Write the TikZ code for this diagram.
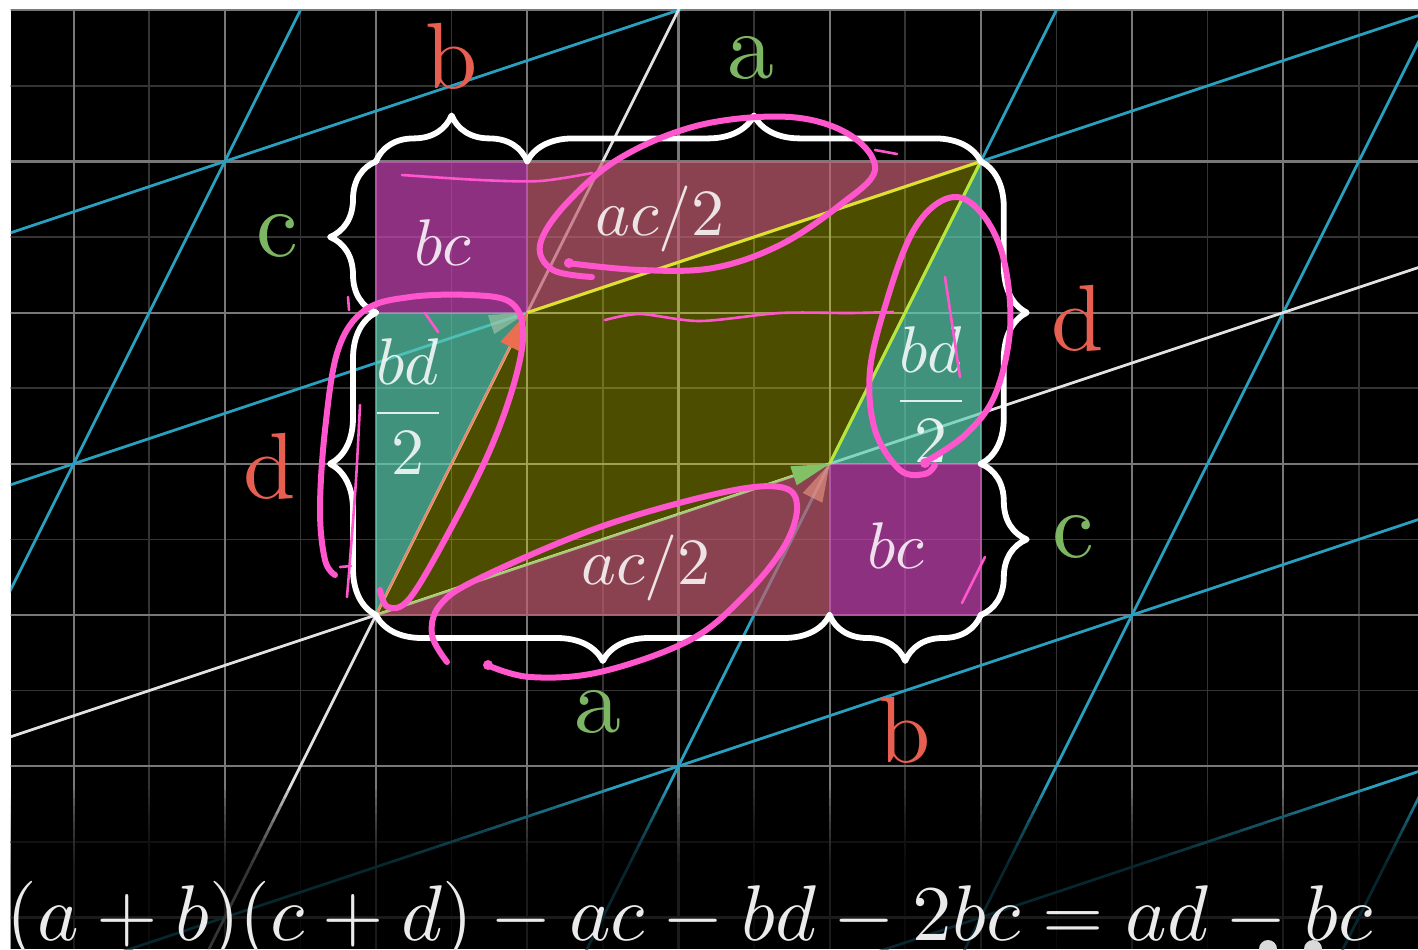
\documentclass[tikz,border=0pt]{standalone}
\usepackage{graphicx}
\usetikzlibrary{decorations.pathreplacing}
\definecolor{labred}{RGB}{230,95,80}
\definecolor{labgreen}{RGB}{125,182,98}
\definecolor{tblue}{RGB}{42,160,192}
\definecolor{gridmaj}{RGB}{120,120,120}
\definecolor{gridmin}{RGB}{52,52,52}
\definecolor{axisw}{RGB}{225,225,225}
\definecolor{fpurple}{RGB}{209,71,189}
\definecolor{fred}{RGB}{197,95,115}
\definecolor{fteal}{RGB}{92,208,179}
\definecolor{fyellow}{RGB}{255,255,0}
\definecolor{annpink}{RGB}{255,85,205}
\definecolor{vecred}{RGB}{235,110,80}
\definecolor{vecgreen}{RGB}{131,193,103}
\newcommand{\biglbl}[1]{\scalebox{4.7}{#1}}
\newcommand{\inmath}[1]{\scalebox{3.3}{$\displaystyle #1$}}
\tikzset{
  majl/.style={draw=gridmaj, line width=1.1pt},
  minl/.style={draw=gridmin, line width=0.75pt},
  tgrid/.style={draw=tblue, line width=1.4pt},
  axisl/.style={draw=axisw, line width=1.4pt},
  bracel/.style={draw=white, line width=2.9pt, line cap=round, line join=round, decorate, decoration={brace, amplitude=23pt}},
  lblR/.style={text=labred, inner sep=0pt},
  lblG/.style={text=labgreen, inner sep=0pt},
  inlbl/.style={text=white, text opacity=0.85, inner sep=0pt},
  pinkthick/.style={draw=annpink, line width=3pt, line cap=round, line join=round},
  pinkthin/.style={draw=annpink, line width=1.3pt, line cap=round, line join=round},
  fillP/.style={fill=fpurple, fill opacity=0.68},
  fillR/.style={fill=fred, fill opacity=0.7},
  fillT/.style={fill=fteal, fill opacity=0.7},
  fillY/.style={fill=fyellow, fill opacity=0.3},
}
\begin{document}
\begin{tikzpicture}[x=0.5pt,y=-0.5pt]
\useasboundingbox (0,0) rectangle (1418,949);
\fill[white] (0,0) rectangle (1418,949);
\fill[black] (10.5,9) rectangle (1418,949);
% key points
\coordinate (O) at (376,615);
\coordinate (A) at (829.6,463.8);
\coordinate (B) at (527.2,312.6);
\coordinate (S) at (980.8,161.4);
\coordinate (TL) at (376,161.4);
\coordinate (T1) at (527.2,161.4);
\coordinate (L1) at (376,312.6);
\coordinate (BR) at (980.8,615);
\coordinate (B1) at (829.6,615);
\coordinate (R1) at (980.8,463.8);
\begin{scope}
\clip (10.5,9) rectangle (1418,949);
% background grid
\foreach \k in {-4,...,13}{
  \pgfmathsetmacro\xx{376+75.6*(\k)}
  \ifodd\k \draw[minl] (\xx,9) -- (\xx,949); \fi
}
\foreach \k in {-4,...,8}{
  \pgfmathsetmacro\yy{615-75.6*(\k)}
  \ifodd\k \draw[minl] (10,\yy) -- (1418,\yy); \fi
}
\foreach \k in {-4,...,13}{
  \pgfmathsetmacro\xx{376+75.6*(\k)}
  \ifodd\k \else \draw[majl] (\xx,9) -- (\xx,949); \fi
}
\foreach \k in {-4,...,8}{
  \pgfmathsetmacro\yy{615-75.6*(\k)}
  \ifodd\k \else \draw[majl] (10,\yy) -- (1418,\yy); \fi
}
% transformed grid
\foreach \k in {-2,-1,1,2,3}{
  \draw[tgrid] ({376+151.2*(\k)-453.6*4},{615-302.4*(\k)+151.2*4}) -- ({376+151.2*(\k)+453.6*4},{615-302.4*(\k)-151.2*4});
  \draw[tgrid] ({376+453.6*(\k)-151.2*5},{615-151.2*(\k)+302.4*5}) -- ({376+453.6*(\k)+151.2*5},{615-151.2*(\k)-302.4*5});
}
\draw[axisl] ({376-453.6*4},{615+151.2*4}) -- ({376+453.6*4},{615-151.2*4});
\draw[axisl] ({376-151.2*5},{615+302.4*5}) -- ({376+151.2*5},{615-302.4*5});
% fade at the bottom
\foreach \i in {0,...,9}{
  \fill[black, fill opacity=0.13] (10,{790+8*\i}) rectangle (1418,949);
}
\end{scope}
% regions
\fill[fillP] (TL) rectangle (B);
\fill[fillP] (A) rectangle (BR);
\fill[fillR] (T1) -- (S) -- (B) -- cycle;
\fill[fillR] (O) -- (B1) -- (A) -- cycle;
\fill[fillT] (L1) -- (B) -- (O) -- cycle;
\fill[fillT] (A) -- (R1) -- (S) -- cycle;
\fill[fillY] (O) -- (A) -- (S) -- (B) -- cycle;
% parallelogram edges and vectors
\draw[draw={rgb,255:red,225;green,225;blue,45}, line width=1.5pt] (B) -- (S);
\draw[draw={rgb,255:red,185;green,230;blue,60}, line width=1.5pt] (A) -- (S);
\draw[draw={rgb,255:red,160;green,205;blue,120}, line width=1pt] (O) -- (A);
\draw[draw=vecred!85!white, line width=1.1pt] (O) -- (B);
\fill[fill={rgb,255:red,170;green,200;blue,170}, fill opacity=0.6] (B) -- (494.3,334.1) -- (487.9,315.1) -- cycle;
\fill[fill=vecred] (B) -- (520,351.5) -- (500.4,341.7) -- cycle;
\fill[fill=vecred!70!white, fill opacity=0.6] (A) -- (822.4,502.7) -- (802.8,492.9) -- cycle;
\fill[fill=vecgreen] (A) -- (796.7,485.3) -- (790.3,466.3) -- cycle;
% inner labels
\node[inlbl] (bc1) at (443,243) {\inmath{bc}};
\node[inlbl] (bc2) at (896,546) {\inmath{bc}};
\node[inlbl] (ac1) at (660,219) {\inmath{ac/2}};
\node[inlbl] (ac2) at (646,568) {\inmath{ac/2}};
\node[inlbl] (bd1) at (408,407) {\inmath{\frac{bd}{2}}};
\node[inlbl] (bd2) at (931,395) {\inmath{\frac{bd}{2}}};
% braces
\draw[bracel] (TL) -- (T1);
\draw[bracel] (T1) -- (S);
\draw[bracel] (L1) -- (TL);
\draw[bracel] (O) -- (L1);
\draw[bracel] (S) -- (R1);
\draw[bracel] (R1) -- (BR);
\draw[bracel] (B1) -- (O);
\draw[bracel] (BR) -- (B1);
% brace labels
\node[lblR] (lbT) at (452,56) {\biglbl{b}};
\node[lblG] (laT) at (751,58) {\biglbl{a}};
\node[lblG] (lcL) at (277,236) {\biglbl{c}};
\node[lblR] (ldL) at (270,466) {\biglbl{d}};
\node[lblR] (ldR) at (1078,318) {\biglbl{d}};
\node[lblG] (lcR) at (1073,537) {\biglbl{c}};
\node[lblG] (laB) at (598,712) {\biglbl{a}};
\node[lblR] (lbB) at (905,730) {\biglbl{b}};
% equation
\node[anchor=base west, inner sep=0pt, text=white!92!black] (eq) at (6,940) {\resizebox{683pt}{!}{$(a+b)(c+d)-ac-bd-2bc=ad-bc$}};
\fill[white!85!black] (1268,949) circle (9);
\fill[white!85!black] (1313,949) circle (9);
% pink annotations
\draw[pinkthin] plot[smooth] coordinates {(402,175) (480,180) (540,181) (592,173)};
\draw[pinkthick] plot[smooth, tension=0.6] coordinates {(567,263) (640,270) (713,268) (780,245) (840,205) (875,170) (850,135) (790,117) (700,125) (620,158) (565,205) (540,245) (553,270) (592,277)};
\fill[annpink] (569,263) circle (5);
\draw[pinkthin] (875,150) -- (897,154);
\draw[pinkthin] plot[smooth] coordinates {(605,320) (640,314) (700,321) (780,313) (850,313) (893,312)};
\draw[pinkthick] plot[smooth, tension=0.6] coordinates {(380,590) (388,607) (410,598) (450,530) (490,450) (515,380) (523,330) (510,302) (470,295) (410,297) (365,310) (338,350) (325,430) (320,510) (325,560) (335,575)};
\draw[pinkthin] plot[smooth] coordinates {(360,405) (356,480) (350,560) (347,597)};
\draw[pinkthin] (425,313) -- (438,332);
\draw[pinkthin] (348,297) -- (349,310);
\draw[pinkthin] (340,567) -- (351,566);
\draw[pinkthick] plot[smooth, tension=0.6] coordinates {(487,665) (530,677) (600,672) (690,640) (745,595) (785,545) (797,505) (780,487) (720,493) (600,527) (480,578) (440,605) (432,635) (447,662)};
\fill[annpink] (488,665) circle (5);
\draw[pinkthick] plot[smooth, tension=0.6] coordinates {(925,462) (965,435) (995,395) (1010,330) (1005,265) (988,222) (962,198) (935,205) (910,237) (887,300) (870,370) (875,430) (900,470) (925,474) (935,465)};
\fill[annpink] (925,463) circle (5);
\draw[pinkthin] (945,277) -- (960,377);
\draw[pinkthin] (985,557) -- (962,603);
\end{tikzpicture}
\end{document}
